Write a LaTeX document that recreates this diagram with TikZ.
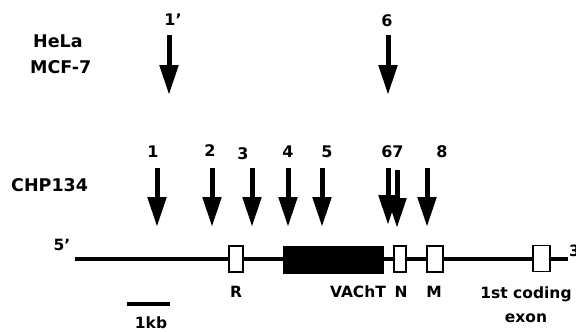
\documentclass[tikz,border=0pt]{standalone}
\usepackage{fontspec}
\setmainfont{DejaVu Sans}
\usetikzlibrary{arrows.meta}

\begin{document}
\begin{tikzpicture}[x=1pt,y=-1pt,
                site/.style={-{Triangle[length=30pt,width=18pt]},line width=5pt},
                big/.style={anchor=base west,inner sep=0pt,font=\bfseries\fontsize{17.5}{17.5}\selectfont},
                num/.style={anchor=base,inner sep=0pt,font=\bfseries\fontsize{16}{16}\selectfont},
                lbl/.style={anchor=base,inner sep=0pt,font=\bfseries\fontsize{15.5}{15.5}\selectfont},
                exon/.style={draw,fill=white,line width=1.6pt,minimum width=12pt,minimum height=26pt,inner sep=0pt}]

  \useasboundingbox (0,0) rectangle (576,332);

  % cell lines
  \node[big] (hela) at (33,47) {HeLa};
  \node[big] (mcf) at (30,73) {MCF-7};
  \node[big] (chp) at (11,191) {CHP134};

  % sites in HeLa / MCF-7
  \node[num] (top1) at (173,25) {1'};
  \node[num] (top6) at (387,27) {6};
  \coordinate (a1) at (169,35);  \coordinate (b1) at (169,95);
  \coordinate (a6) at (388,35);  \coordinate (b6) at (388,95);
  \draw[site] (a1) -- (b1);
  \draw[site] (a6) -- (b6);

  % sites in CHP134
  \foreach \n/\x/\lx/\ly in {1/157/153/157, 2/212/210/156, 3/252/243/159,
                             4/288/288/157, 5/322/327/157, 8/427/442/157} {
    \node[num] (n\n) at (\lx,\ly) {\n};
    \coordinate (s\n) at (\x,168);
    \coordinate (t\n) at (\x,227);
    \draw[site] (s\n) -- (t\n);
  }
  \node[num] (n6) at (387,157) {6};
  \node[num] (n7) at (398,157) {7};
  \coordinate (s6) at (388,168);  \coordinate (t6) at (388,225);
  \coordinate (s7) at (397,170);  \coordinate (t7) at (397,228);
  \draw[site] (s6) -- (t6);
  \draw[site] (s7) -- (t7);

  % gene
  \coordinate (left) at (75,259);
  \coordinate (right) at (568,259);
  \draw[line width=3.5pt] (left) -- (right);
  \node[lbl] (five) at (62,250) {5'};
  \node[lbl,anchor=base west] (three) at (569,256) {3'};

  \node[exon,minimum width=14pt] (R) at (236,259) {};
  \node[draw,fill=black,minimum width=100pt,minimum height=27pt,inner sep=0pt] (vacht) at (333,259.5) {};
  \node[exon] (N) at (400,259) {};
  \node[exon,minimum width=16pt] (M) at (435,259) {};
  \node[exon,minimum width=17pt] (first) at (541.5,258.5) {};

  \node[lbl] (lR) at (236,297) {R};
  \node[lbl] (lvacht) at (358,297) {VAChT};
  \node[lbl] (lN) at (401,297) {N};
  \node[lbl] (lM) at (434,297) {M};
  \node[lbl] (lfirst) at (526,298) {1st coding};
  \node[lbl] (lexon) at (526,322) {exon};

  % scale bar
  \coordinate (kb1) at (127,304);
  \coordinate (kb2) at (170,304);
  \draw[line width=4pt] (kb1) -- (kb2);
  \node[lbl] (kb) at (151,328) {1kb};
\end{tikzpicture}
\end{document}
